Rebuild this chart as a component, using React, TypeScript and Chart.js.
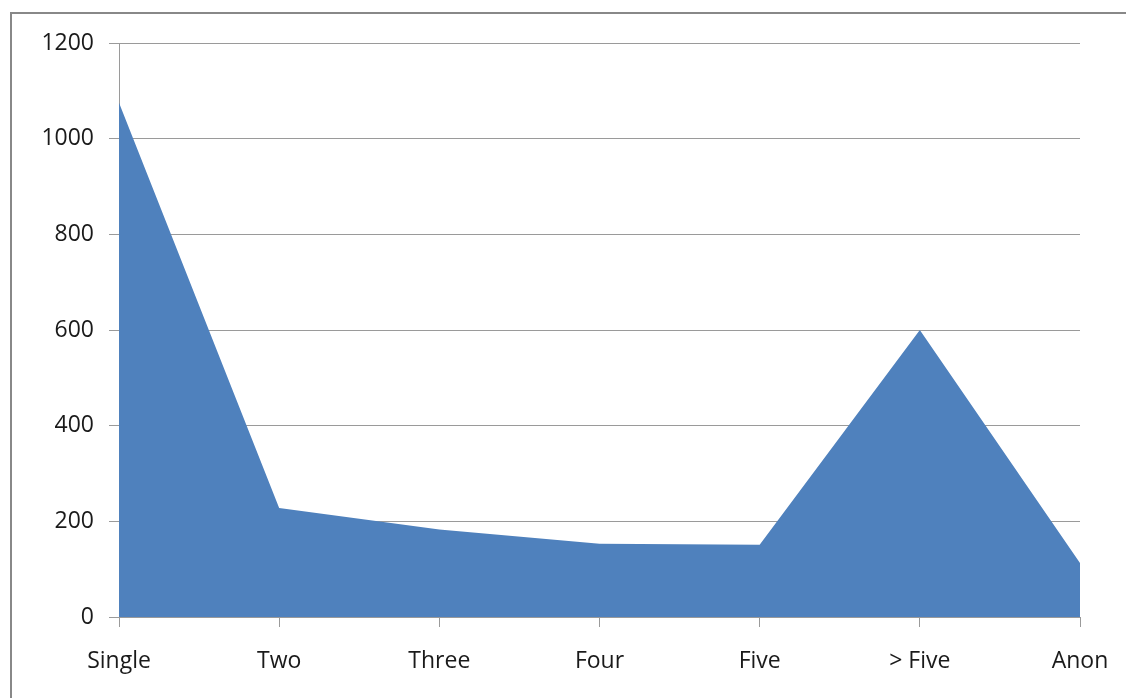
import React, { useEffect, useRef } from "react";
import { Chart, registerables } from "chart.js";

Chart.register(...registerables);

const categories = ["Single", "Two", "Three", "Four", "Five", "> Five", "Anon"];
const seriesValues = [1075, 228, 183, 153, 151, 600, 113];
const yTickMin = 0;
const yTickMax = 1200;
const yTickStep = 200;

export default function App() {
  const ref = useRef<HTMLCanvasElement | null>(null);

  useEffect(() => {
    document.body.style.margin = "0";
    const ctx = ref.current!.getContext("2d")!;
    const font = { family: "'Open Sans', 'Liberation Sans', sans-serif", size: 23 };
    const chart = new Chart(ctx, {
      type: "line",
      data: {
        labels: categories,
        datasets: [
          {
            data: seriesValues,
            fill: "origin",
            backgroundColor: "#4F81BD",
            borderColor: "#4F81BD",
            borderWidth: 0,
            pointRadius: 0,
            tension: 0,
          },
        ],
      },
      options: {
        animation: false,
        responsive: false,
        devicePixelRatio: 1,
        layout: { padding: { top: 43, right: 46, bottom: 0, left: 0 } },
        plugins: { legend: { display: false }, tooltip: { enabled: false } },
        scales: {
          x: {
            offset: false,
            grid: {
              drawOnChartArea: false,
              drawTicks: true,
              tickLength: 10,
              color: "#9a9a9a",
              lineWidth: 1,
            },
            border: { color: "#9a9a9a", width: 1 },
            ticks: { font, color: "#1a1a1a", padding: 21, maxRotation: 0, autoSkip: false },
            afterFit: (s: any) => {
              s.height = 81;
              s.paddingLeft = 0;
              s.paddingRight = 0;
            },
          },
          y: {
            min: yTickMin,
            max: yTickMax,
            grid: { color: "#9a9a9a", lineWidth: 1, tickLength: 10 },
            border: { color: "#9a9a9a", width: 1 },
            ticks: {
              stepSize: yTickStep,
              font,
              color: "#1a1a1a",
              padding: 15,
              callback: (v: any) => String(v),
            },
            afterFit: (s: any) => {
              s.width = 119;
              s.paddingTop = 0;
              s.paddingBottom = 0;
            },
          },
        },
      },
    });
    return () => chart.destroy();
  }, []);

  return (
    <div style={{ position: "fixed", left: 0, top: 0, width: 1126, height: 698, overflow: "hidden", background: "#fff" }}>
      <canvas ref={ref} width={1126} height={698} style={{ position: "absolute", left: 0, top: 0 }} />
      <div
        style={{
          position: "absolute",
          left: 10,
          top: 12,
          width: 1300,
          height: 900,
          border: "2px solid #888888",
          boxSizing: "border-box",
          pointerEvents: "none",
        }}
      />
    </div>
  );
}
